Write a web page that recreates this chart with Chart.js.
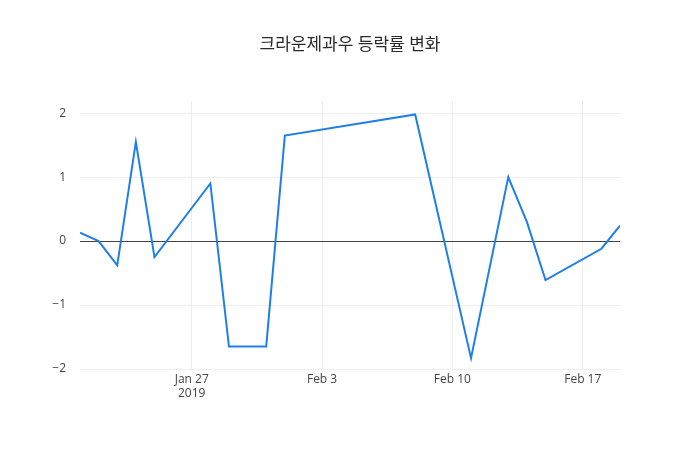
<!DOCTYPE html>
<html><head><meta charset="utf-8">
<script src="https://cdn.jsdelivr.net/npm/chart.js@4"></script>
<style>body{margin:0;background:#fff}#w{width:700px;height:450px}</style></head>
<body><div id="w"><canvas id="c"></canvas></div>
<script>
// day offsets from 2019-01-27
const days = [-6,-5,-4,-3,-2,1,2,4,5,12,15,17,18,19,22,23];
const values = [0.13,0.0,-0.38,1.55,-0.25,0.9,-1.65,-1.65,1.65,1.98,-1.83,1.0,0.3,-0.61,-0.12,0.24];
const tickDays = [0,7,14,21];
const tickLabels = [["Jan 27","2019"],"Feb 3","Feb 10","Feb 17"];
const titleText = "크라운제과우 등락률 변화";
const font = "'Open Sans','Noto Sans CJK KR',sans-serif";
const titlePlugin = {id:'t',afterDraw(ch){const c=ch.ctx;c.save();c.font="17px "+font;c.fillStyle="#2a2a2a";c.textAlign="center";c.textBaseline="middle";c.fillText(titleText,350,45);c.restore();}};
new Chart(document.getElementById('c'),{
 type:'line',
 data:{datasets:[{data:days.map((d,i)=>({x:d,y:values[i]})),borderColor:'#1f7fe8',borderWidth:2,pointRadius:0,tension:0,fill:false}]},
 options:{responsive:true,maintainAspectRatio:false,animation:false,
  layout:{padding:{top:101,right:80,left:0,bottom:0}},
  plugins:{legend:{display:false},tooltip:{enabled:false}},
  scales:{
   x:{type:'linear',min:-6,max:23,afterFit(s){s.height=81;},
    afterBuildTicks(s){s.ticks=tickDays.map(v=>({value:v}));},
    ticks:{autoSkip:false,maxRotation:0,color:'#444',font:{family:font,size:12},callback:(v)=>tickLabels[tickDays.indexOf(v)]},
    grid:{color:'#eee',drawTicks:false},border:{display:false}},
   y:{min:-2.0,max:2.19,afterFit(s){s.width=80;},
    afterBuildTicks(s){s.ticks=[-2,-1,0,1,2].map(v=>({value:v}));},
    ticks:{color:'#444',padding:14,font:{family:font,size:12},callback:v=>v<0?'\u2212'+Math.abs(v):''+v},
    grid:{drawTicks:false,color:c=>c.tick&&c.tick.value===0?'#444':'#eee'},border:{display:false}}
  }},
 plugins:[titlePlugin]
});
</script></body></html>
